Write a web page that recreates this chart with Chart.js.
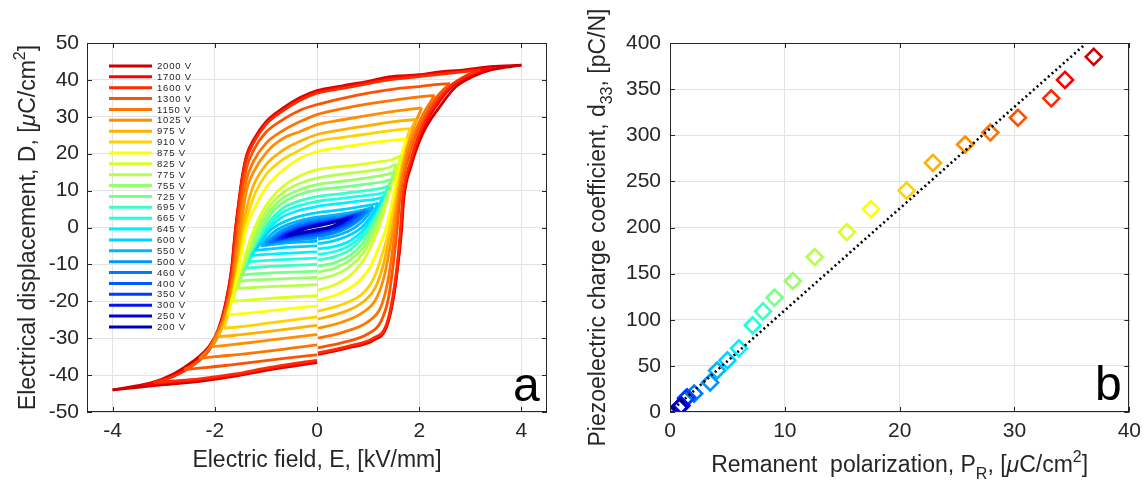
<!DOCTYPE html>
<html>
<head>
<meta charset="utf-8">
<script src="https://cdn.jsdelivr.net/npm/chart.js@4.4.1/dist/chart.umd.min.js"></script>
<style>
  body { margin: 0; background: #fff; }
  #wrap { position: relative; width: 1148px; height: 483px; }
  canvas { position: absolute; top: 0; }
</style>
</head>
<body>
<div id="wrap">
  <canvas id="loopChart" width="574" height="483" style="left:0"></canvas>
  <canvas id="d33Chart" width="574" height="483" style="left:574px"></canvas>
</div>
<script>
// ---- panel a: D-E hysteresis loops, one per drive voltage (legend order) ----
const voltages = ['2000 V', '1700 V', '1600 V', '1300 V', '1150 V', '1025 V', '975 V', '910 V', '875 V',
  '825 V', '775 V', '755 V', '725 V', '695 V', '665 V', '645 V', '600 V', '550 V', '500 V', '460 V',
  '400 V', '350 V', '300 V', '250 V', '200 V'];

// upper branch, field going down from +Emax to -Emax: [E kV/mm, D uC/cm2]
const loopUpper = [
  [[4,44],[3.4,43.6],[2.8,42.6],[2.4,42.2],[2,41.4],[1.4,40.8],[1,39.6],[0.5,38.4],[0,37.1],[-0.33,35.2],[-0.66,32.4],[-1,28.6],[-1.24,23.8],[-1.38,19.5],[-1.46,14],[-1.53,7],[-1.6,-1],[-1.67,-11],[-1.78,-20],[-1.93,-27.5],[-2.1,-32],[-2.45,-36.5],[-2.8,-39.6],[-3.25,-42.1],[-3.7,-43.3],[-4,-44]],
  [[3.4,43.2],[3,42.6],[2.4,41.8],[2,41.2],[1.4,40.4],[1,39.4],[0.5,38.1],[0,36.8],[-0.33,34.9],[-0.66,32.1],[-1,28.3],[-1.24,23.5],[-1.38,19],[-1.46,13.5],[-1.53,6.5],[-1.6,-1.5],[-1.67,-11.5],[-1.78,-20.5],[-1.93,-28],[-2.1,-32.5],[-2.45,-37.2],[-2.8,-40.2],[-3.1,-41.8],[-3.4,-42.6]],
  [[3.2,42.7],[2.8,42.1],[2.4,41.5],[2,40.9],[1.4,40],[1,39],[0.5,37.7],[0,36.4],[-0.33,34.5],[-0.66,31.7],[-1,27.9],[-1.24,23],[-1.38,18.5],[-1.46,13],[-1.53,6],[-1.59,-1.5],[-1.66,-11.5],[-1.77,-20.5],[-1.92,-28],[-2.1,-33],[-2.45,-37.6],[-2.8,-40.3],[-3.2,-42]],
  [[2.6,39],[2.3,38.7],[2,38.2],[1.6,37.7],[1,36.4],[0.5,35],[0,33.3],[-0.33,31.8],[-0.66,29.3],[-1,25.8],[-1.24,21],[-1.38,16],[-1.47,9],[-1.55,0],[-1.62,-9],[-1.72,-18],[-1.85,-25.5],[-2,-30.5],[-2.2,-34.5],[-2.4,-37],[-2.6,-38.5]],
  [[2.3,35.8],[2,35.4],[1.6,34.7],[1,33.5],[0.5,32.2],[0,30.6],[-0.33,28.7],[-0.66,26.3],[-1,22.8],[-1.24,18],[-1.38,13],[-1.46,6.5],[-1.52,0],[-1.59,-8],[-1.68,-16.5],[-1.8,-23.5],[-1.95,-28.5],[-2.1,-32.5],[-2.3,-35.5]],
  [[2.05,32.4],[1.8,32],[1.6,31.7],[1,30.4],[0.5,29.2],[0,27.9],[-0.33,26],[-0.66,24.2],[-0.98,20.5],[-1.24,15.1],[-1.38,10],[-1.44,5],[-1.49,0],[-1.56,-8],[-1.65,-16],[-1.77,-23.5],[-1.9,-28.5],[-2.05,-32.3]],
  [[1.95,29.3],[1.7,29],[1.5,28.7],[1,27.6],[0.5,26.5],[0,25.2],[-0.33,23.4],[-0.66,21],[-1,17],[-1.24,11.5],[-1.36,6],[-1.45,0],[-1.53,-8],[-1.62,-16],[-1.74,-23],[-1.85,-27],[-1.95,-29.6]],
  [[1.82,26.8],[1.6,26.5],[1.3,26],[1,25.4],[0.5,24.4],[0,23.3],[-0.33,21],[-0.66,18.5],[-1,14.3],[-1.22,9],[-1.34,4],[-1.42,0],[-1.5,-7],[-1.6,-15],[-1.7,-21.5],[-1.82,-27.3]],
  [[1.75,24],[1.5,23.7],[1.2,23.2],[0.8,22.4],[0.4,21.6],[0,20.6],[-0.33,18.8],[-0.66,15.6],[-1,10.8],[-1.24,4.7],[-1.38,0],[-1.48,-7],[-1.58,-14.5],[-1.67,-20],[-1.75,-23.7]],
  [[1.65,19.5],[1.45,18.3],[1.2,17.8],[0.8,17],[0.4,16.4],[0,15.7],[-0.33,14],[-0.66,11.2],[-0.9,7.8],[-1.1,3.5],[-1.3,-3],[-1.45,-10],[-1.56,-15.5],[-1.65,-20]],
  [[1.55,17.2],[1.4,16.2],[1.1,15.5],[0.7,14.8],[0.35,14.2],[0,13.4],[-0.33,12],[-0.66,9.5],[-0.9,6.3],[-1.08,2.5],[-1.22,-2],[-1.35,-7.5],[-1.46,-12.5],[-1.55,-16.5]],
  [[1.51,15],[1.35,14.3],[1.05,13.6],[0.7,12.9],[0.35,12.3],[0,11.6],[-0.33,10.3],[-0.66,8],[-0.9,5],[-1.05,1.7],[-1.18,-2],[-1.3,-6.5],[-1.42,-11],[-1.51,-14.5]],
  [[1.45,13],[1.3,12.4],[1,11.8],[0.65,11.2],[0.3,10.7],[0,10.2],[-0.33,9],[-0.66,6.8],[-0.88,4],[-1.02,1],[-1.13,-2],[-1.25,-6],[-1.36,-9.8],[-1.45,-12.8]],
  [[1.39,11.2],[1.25,10.6],[0.95,10],[0.6,9.4],[0.3,8.9],[0,8.4],[-0.33,7.3],[-0.66,5.3],[-0.86,2.8],[-1,0.2],[-1.1,-2.5],[-1.22,-6],[-1.32,-8.8],[-1.39,-11]],
  [[1.33,9.6],[1.2,9.1],[0.9,8.6],[0.6,8.1],[0.3,7.6],[0,7.1],[-0.33,6],[-0.66,4.2],[-0.85,2],[-0.97,0],[-1.07,-2.4],[-1.18,-5.3],[-1.27,-7.6],[-1.33,-9.3]],
  [[1.29,8.2],[1.15,7.7],[0.85,7.2],[0.55,6.7],[0.25,6.2],[0,5.7],[-0.33,4.7],[-0.66,3],[-0.85,1],[-0.98,-1],[-1.08,-3.2],[-1.19,-5.6],[-1.29,-7.6]],
  [[1.2,6.6],[1.05,6.1],[0.75,5.4],[0.4,4.7],[0,4],[-0.33,3.1],[-0.6,1.8],[-0.8,0.4],[-0.93,-1],[-1.03,-2.7],[-1.12,-4.5],[-1.2,-6.2]],
  [[1.1,5.6],[0.95,4.9],[0.65,4],[0.3,3.3],[0,2.8],[-0.33,1.9],[-0.6,0.7],[-0.78,-0.6],[-0.9,-1.9],[-1,-3.4],[-1.1,-5]],
  [[1.02,4.9],[0.85,4.1],[0.55,3.2],[0.25,2.6],[0,2.2],[-0.3,1.3],[-0.55,0.1],[-0.72,-1.1],[-0.85,-2.4],[-1.02,-4.5]],
  [[0.94,4.4],[0.75,3.5],[0.5,2.7],[0.25,2.1],[0,1.7],[-0.3,0.8],[-0.5,-0.2],[-0.67,-1.4],[-0.8,-2.6],[-0.94,-4]],
  [[0.86,3.9],[0.65,3],[0.4,2.2],[0.2,1.7],[0,1.3],[-0.25,0.5],[-0.45,-0.4],[-0.62,-1.5],[-0.86,-3.6]],
  [[0.78,3.5],[0.55,2.5],[0.3,1.7],[0,1],[-0.25,0.2],[-0.5,-0.9],[-0.78,-3.2]],
  [[0.7,3.1],[0.45,2],[0.2,1.3],[0,0.8],[-0.2,0.1],[-0.45,-1],[-0.7,-2.8]],
  [[0.62,2.7],[0.4,1.7],[0.15,1],[0,0.6],[-0.2,-0.1],[-0.4,-1],[-0.62,-2.4]],
  [[0.55,2.3],[0.3,1.3],[0,0.4],[-0.25,-0.4],[-0.55,-2.1]]
];

// lower branch, field going up from -Emax to +Emax; null = gap at E = 0 where the record restarts
const loopLower = [
  [[-4,-44],[-3.5,-43.3],[-3,-42.6],[-2.3,-41.7],[-1.6,-40.3],[-1,-38.7],[-0.33,-37.3],[0,-36.6],null,[0.02,-34.4],[0.6,-32.6],[1.1,-30.6],[1.36,-27],[1.49,-19.6],[1.58,-10.6],[1.65,-1.5],[1.7,8],[1.84,16.6],[2.07,25.5],[2.4,32.7],[2.72,38.2],[3.05,40.9],[3.4,42.7],[4,44]],
  [[-3.4,-42.6],[-3,-42.1],[-2.3,-41.3],[-1.6,-40],[-1,-38.4],[-0.33,-37],[0,-36.3],null,[0.02,-34.2],[0.6,-32.4],[1.1,-30.3],[1.36,-26.6],[1.49,-19.2],[1.58,-10],[1.64,-1],[1.69,8.5],[1.83,17.2],[2.05,26.2],[2.35,33.3],[2.65,38.3],[3,41.3],[3.4,43.2]],
  [[-3.2,-42],[-2.8,-41.6],[-2.3,-41],[-1.6,-39.7],[-1,-38.1],[-0.33,-36.6],[0,-36],null,[0.02,-34],[0.6,-32.2],[1.1,-30],[1.36,-26.3],[1.48,-19],[1.57,-10],[1.63,-1],[1.68,8.5],[1.82,17.5],[2.03,26.5],[2.3,33.5],[2.6,38.3],[2.9,41],[3.2,42.7]],
  [[-2.6,-38.5],[-2.3,-38.1],[-1.8,-37.4],[-1.2,-36.4],[-0.6,-35.4],[0,-34.5],null,[0.02,-32.6],[0.5,-31.2],[1,-28.8],[1.25,-25.5],[1.4,-19],[1.5,-9],[1.57,0],[1.63,9],[1.75,17],[1.92,24.5],[2.12,30.5],[2.35,35.5],[2.6,39]],
  [[-2.3,-35.5],[-2,-35],[-1.5,-34.4],[-1,-33.6],[-0.5,-32.7],[0,-31.8],null,[0.02,-30],[0.5,-28.4],[1,-25.5],[1.25,-21.5],[1.38,-15],[1.47,-7],[1.53,0],[1.59,8],[1.7,16],[1.85,23.5],[2.05,30],[2.3,35.8]],
  [[-2.05,-32.3],[-1.7,-31.8],[-1.2,-31],[-0.6,-30],[0,-29],null,[0.02,-27.3],[0.5,-25.6],[0.9,-23],[1.15,-19.5],[1.3,-14],[1.42,-6],[1.49,0],[1.56,8],[1.66,16],[1.8,23.5],[1.93,28.5],[2.05,32.4]],
  [[-1.95,-29.6],[-1.6,-29.2],[-1.1,-28.4],[-0.5,-27.4],[0,-26.5],null,[0.02,-24.8],[0.5,-23],[0.9,-20.2],[1.15,-16],[1.3,-10],[1.4,-3.5],[1.45,0],[1.52,7],[1.62,15],[1.74,22.5],[1.85,26.8],[1.95,29.3]],
  [[-1.82,-27.3],[-1.5,-26.9],[-1,-26],[-0.5,-25.1],[0,-24.2],null,[0.02,-22.7],[0.5,-20.8],[0.9,-17.8],[1.12,-13.5],[1.27,-7.5],[1.42,0],[1.5,7],[1.6,15],[1.71,22],[1.82,26.8]],
  [[-1.75,-23.7],[-1.4,-23.3],[-0.9,-22.5],[-0.4,-21.8],[0,-21.3],null,[0.02,-19.8],[0.45,-17.8],[0.8,-14.8],[1.05,-10.5],[1.22,-5],[1.36,0],[1.47,7],[1.57,14.5],[1.67,20.5],[1.75,24]],
  [[-1.65,-20],[-1.3,-19.6],[-0.8,-19.1],[-0.33,-18.7],[0,-18.5],null,[0.02,-17],[0.4,-15.2],[0.7,-12.3],[0.95,-8],[1.12,-3],[1.28,3],[1.42,10],[1.55,15.5],[1.65,19.5]],
  [[-1.55,-16.5],[-1.2,-16.2],[-0.7,-15.9],[-0.33,-15.7],[0,-15.5],null,[0.02,-14],[0.35,-12.8],[0.65,-10.5],[0.9,-7],[1.08,-2.5],[1.22,2],[1.35,8],[1.46,13],[1.55,17.2]],
  [[-1.51,-14.5],[-1.2,-14.2],[-0.7,-13.9],[-0.33,-13.7],[0,-13.5],null,[0.02,-12.1],[0.35,-11],[0.65,-8.8],[0.9,-5.5],[1.05,-2],[1.18,2],[1.3,7],[1.42,11.5],[1.51,15]],
  [[-1.45,-12.8],[-1.15,-12.5],[-0.7,-12.2],[-0.33,-12],[0,-11.8],null,[0.02,-10.5],[0.35,-9.5],[0.65,-7.5],[0.88,-4.5],[1.02,-1.3],[1.13,2],[1.25,6],[1.36,10],[1.45,13]],
  [[-1.39,-11],[-1.1,-10.7],[-0.7,-10.4],[-0.33,-10.2],[0,-10],null,[0.02,-8.8],[0.35,-7.9],[0.65,-6],[0.86,-3.3],[1,-0.5],[1.1,2.3],[1.22,5.8],[1.32,8.8],[1.39,11.2]],
  [[-1.33,-9.3],[-1.05,-9],[-0.7,-8.7],[-0.33,-8.5],[0,-8.3],null,[0.02,-7.3],[0.35,-6.5],[0.65,-4.8],[0.85,-2.5],[0.97,0],[1.07,2.4],[1.18,5.3],[1.27,7.7],[1.33,9.6]],
  [[-1.29,-7.6],[-1,-7.3],[-0.66,-7],[-0.33,-6.8],[0,-6.6],null,[0.02,-5.8],[0.35,-5.1],[0.66,-3.5],[0.85,-1.5],[0.98,0.6],[1.08,2.8],[1.19,5.4],[1.29,8.2]],
  [[-1.2,-6.2],[-0.9,-5.8],[-0.6,-5.4],[-0.3,-5.2],[0,-5],null,[0.02,-4.4],[0.33,-3.6],[0.6,-2.3],[0.8,-0.8],[0.93,0.8],[1.03,2.6],[1.12,4.6],[1.2,6.6]],
  [[-1.1,-5],[-0.8,-4.5],[-0.5,-4.1],[-0.25,-3.9],[0,-3.7],null,[0.02,-3.2],[0.33,-2.4],[0.6,-1.1],[0.78,0.4],[0.9,1.8],[1,3.5],[1.1,5.6]],
  [[-1.02,-4.5],[-0.75,-3.9],[-0.45,-3.4],[-0.2,-3.1],[0,-2.9],null,[0.02,-2.5],[0.3,-1.7],[0.55,-0.4],[0.72,0.9],[0.85,2.3],[1.02,4.9]],
  [[-0.94,-4],[-0.7,-3.4],[-0.45,-2.9],[-0.2,-2.5],[0,-2.3],[0.3,-1.2],[0.5,-0.2],[0.67,1],[0.8,2.3],[0.94,4.4]],
  [[-0.86,-3.6],[-0.6,-2.9],[-0.4,-2.4],[-0.2,-2],[0,-1.7],[0.25,-0.8],[0.45,0.1],[0.62,1.2],[0.86,3.9]],
  [[-0.78,-3.2],[-0.5,-2.4],[-0.25,-1.8],[0,-1.3],[0.25,-0.5],[0.5,0.7],[0.78,3.5]],
  [[-0.7,-2.8],[-0.45,-2],[-0.2,-1.4],[0,-1],[0.2,-0.4],[0.45,0.8],[0.7,3.1]],
  [[-0.62,-2.4],[-0.4,-1.7],[-0.15,-1.1],[0,-0.8],[0.2,-0.2],[0.4,0.8],[0.62,2.7]],
  [[-0.55,-2.1],[-0.25,-1.2],[0,-0.6],[0.3,0.3],[0.55,2.3]]
];

const fieldTicks = [-4, -2, 0, 2, 4];
const dispTicks = [-50, -40, -30, -20, -10, 0, 10, 20, 30, 40, 50];

// ---- panel b: d33 against remanent polarization, same voltage order ----
const remanentPol = [36.9, 34.4, 33.2, 30.3, 27.9, 25.7, 22.9, 20.6, 17.5, 15.4, 12.6, 10.7, 9.1, 8.1, 7.2, 6.0, 5.0, 4.1, 3.5, 2.1, 1.5, 1.4, 1.0, 0.9, 0.8];
const d33Values = [385, 360, 340, 319, 303, 290, 270, 240, 220, 195, 168, 142, 124, 109, 94, 69, 56, 45, 32, 20, 16, 15, 7, 6, 5];
const fitPol = [0, 36];
const fitD33 = [0, 397];
const polTicks = [0, 10, 20, 30, 40];
const d33Ticks = [0, 50, 100, 150, 200, 250, 300, 350, 400];

// jet-like colours, one per voltage
const lineColors = ['#d00000', '#ff0000', '#ff2a00', '#ff5200', '#ff7300', '#ff8f00', '#ffb000', '#ffd200', '#ffff00',
  '#dcff23', '#b4ff4b', '#96ff69', '#78ff87', '#3cffc3', '#1effe1', '#00f0ff', '#00d2ff', '#00b4ff', '#0096ff',
  '#0078ff', '#005aff', '#003cff', '#0014ff', '#0000e1', '#0000b4'];

const fontFamily = '"Liberation Sans", Arial, Helvetica, sans-serif';
const ink = '#262626';
const gridColor = '#e3e3e3';
const tickFont = { family: fontFamily, size: 21 };

function drawRich(ctx, parts, x, y, size, vertical) {
  const fontOf = p => (p[1] === 'it' ? 'italic ' : '') +
    (p[1] === 'sup' || p[1] === 'sub' ? Math.round(size * 0.7) : size) + 'px ' + fontFamily;
  ctx.save();
  ctx.translate(x, y);
  if (vertical) ctx.rotate(-Math.PI / 2);
  ctx.fillStyle = ink;
  ctx.textAlign = 'left';
  ctx.textBaseline = 'alphabetic';
  const widths = parts.map(p => { ctx.font = fontOf(p); return ctx.measureText(p[0]).width; });
  let cx = -widths.reduce((a, b) => a + b, 0) / 2;
  parts.forEach((p, i) => {
    ctx.font = fontOf(p);
    const dy = p[1] === 'sup' ? -size * 0.45 : p[1] === 'sub' ? size * 0.3 : 0;
    ctx.fillText(p[0], cx, dy);
    cx += widths[i];
  });
  ctx.restore();
}

// box, inward ticks, rich axis titles and panel letter, MATLAB style
function matlabFrame(cfg) {
  return {
    id: 'matlabFrame',
    afterDraw(chart) {
      const { ctx, chartArea: a, scales } = chart;
      ctx.save();
      ctx.strokeStyle = ink;
      ctx.lineWidth = 1;
      ctx.beginPath();
      scales.x.ticks.forEach(t => {
        const px = Math.round(scales.x.getPixelForValue(t.value)) + 0.5;
        ctx.moveTo(px, a.bottom); ctx.lineTo(px, a.bottom - 5);
        ctx.moveTo(px, a.top); ctx.lineTo(px, a.top + 5);
      });
      scales.y.ticks.forEach(t => {
        const py = Math.round(scales.y.getPixelForValue(t.value)) + 0.5;
        ctx.moveTo(a.left, py); ctx.lineTo(a.left + 5, py);
        ctx.moveTo(a.right, py); ctx.lineTo(a.right - 5, py);
      });
      ctx.stroke();
      ctx.strokeRect(Math.round(a.left) + 0.5, Math.round(a.top) + 0.5,
        Math.round(a.right - a.left) - 1, Math.round(a.bottom - a.top) - 1);

      drawRich(ctx, cfg.xTitle, (a.left + a.right) / 2, cfg.xTitleY, 23, false);
      drawRich(ctx, cfg.yTitle, cfg.yTitleX, (a.top + a.bottom) / 2, 23, true);

      ctx.fillStyle = '#000';
      ctx.font = '48px ' + fontFamily;
      ctx.textBaseline = 'alphabetic';
      ctx.fillText(cfg.letter, cfg.letterX, cfg.letterY);

      if (cfg.legend) {
        ctx.font = '9.5px ' + fontFamily;
        ctx.letterSpacing = '0.8px';
        ctx.textBaseline = 'middle';
        ctx.fillStyle = ink;
        ctx.lineWidth = 3;
        voltages.forEach((v, i) => {
          const y = 66 + i * 10.87;
          ctx.strokeStyle = lineColors[i];
          ctx.beginPath();
          ctx.moveTo(109, y); ctx.lineTo(152, y);
          ctx.stroke();
          ctx.fillText(v, 157, y + 0.5);
        });
      }
      ctx.restore();
    }
  };
}

function axisOpts(min, max, tickValues, extra) {
  return Object.assign({
    min: min,
    max: max,
    afterBuildTicks: s => { s.ticks = tickValues.map(v => ({ value: v })); },
    grid: { color: gridColor, lineWidth: 1, drawTicks: false },
    border: { display: false },
    ticks: { font: tickFont, color: ink, maxRotation: 0, autoSkip: false, callback: v => String(v) }
  }, extra);
}

// Panel a
const loopSets = [];
voltages.forEach((v, i) => {
  [loopUpper[i], loopLower[i]].forEach(branch => {
    loopSets.push({
      data: branch.map(p => (p ? { x: p[0], y: p[1] } : { x: 0.01, y: null })),
      borderColor: lineColors[i],
      borderWidth: 2.8,
      showLine: true,
      spanGaps: false,
      pointRadius: 0,
      cubicInterpolationMode: 'monotone',
      order: voltages.length - i
    });
  });
});

const xA = axisOpts(-4.5, 4.5, fieldTicks, { afterFit: s => { s.height = 71; } });
xA.ticks.padding = 7;
const yA = axisOpts(-50, 50, dispTicks, { afterFit: s => { s.width = 87; } });
yA.ticks.padding = 8;

new Chart(document.getElementById('loopChart'), {
  type: 'scatter',
  data: { datasets: loopSets },
  options: {
    responsive: false,
    animation: false,
    events: [],
    layout: { padding: { top: 43, right: 27, left: 0, bottom: 0 } },
    plugins: { legend: { display: false }, tooltip: { enabled: false } },
    scales: { x: xA, y: yA }
  },
  plugins: [matlabFrame({
    xTitle: [['Electric field, E, [kV/mm]', '']],
    xTitleY: 467,
    yTitle: [['Electrical displacement, D, [', ''], ['\u03bc', 'it'], ['C/cm', ''], ['2', 'sup'], [']', '']],
    yTitleX: 35,
    letter: 'a', letterX: 513, letterY: 401,
    legend: true
  })]
});

// Panel b
const xB = axisOpts(0, 40, polTicks, { afterFit: s => { s.height = 71; } });
xB.ticks.padding = 7;
const yB = axisOpts(0, 400, d33Ticks, { afterFit: s => { s.width = 96; } });
yB.ticks.padding = 9;

new Chart(document.getElementById('d33Chart'), {
  type: 'scatter',
  data: {
    datasets: [
      {
        data: fitPol.map((p, i) => ({ x: p, y: fitD33[i] })),
        showLine: true,
        borderColor: '#000',
        borderWidth: 2.6,
        borderDash: [2, 3],
        pointRadius: 0,
        order: 0
      },
      {
        data: remanentPol.map((p, i) => ({ x: p, y: d33Values[i] })),
        pointStyle: 'rectRot',
        pointRadius: 8,
        pointBorderWidth: 2.6,
        pointBackgroundColor: 'rgba(0,0,0,0)',
        pointBorderColor: lineColors,
        showLine: false,
        order: 1
      }
    ]
  },
  options: {
    responsive: false,
    animation: false,
    events: [],
    layout: { padding: { top: 43, right: 15, left: 0, bottom: 0 } },
    plugins: { legend: { display: false }, tooltip: { enabled: false } },
    scales: { x: xB, y: yB }
  },
  plugins: [matlabFrame({
    xTitle: [['Remanent  polarization, P', ''], ['R', 'sub'], [', [', ''], ['\u03bc', 'it'], ['C/cm', ''], ['2', 'sup'], [']', '']],
    xTitleY: 472,
    yTitle: [['Piezoelectric charge coefficient, d', ''], ['33', 'sub'], [', [pC/N]', '']],
    yTitleX: 31,
    letter: 'b', letterX: 521, letterY: 400,
    legend: false
  })]
});
</script>
</body>
</html>
